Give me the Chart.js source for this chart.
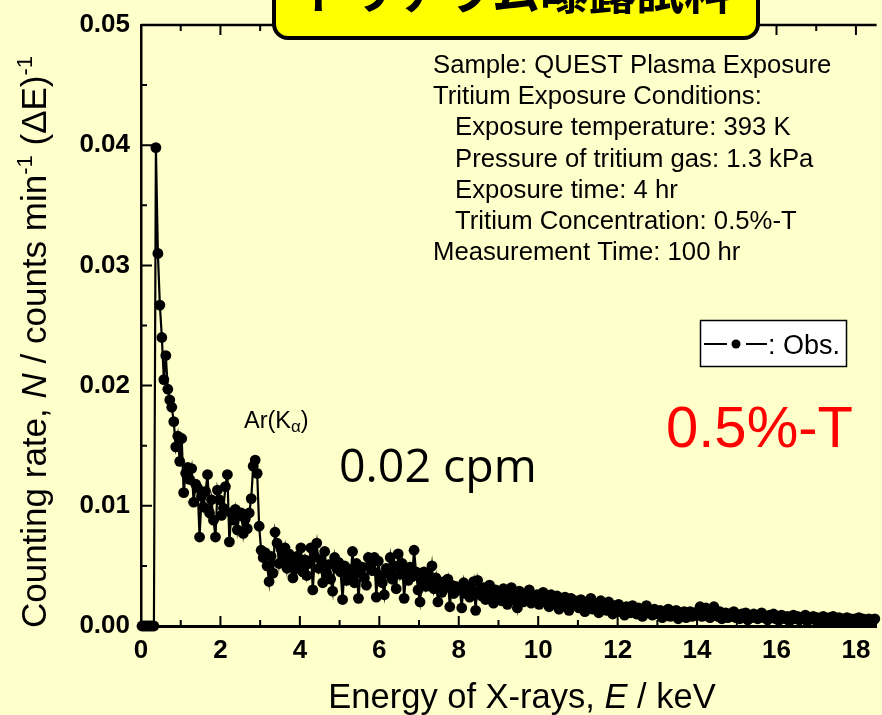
<!DOCTYPE html>
<html><head><meta charset="utf-8">
<script src="https://cdn.jsdelivr.net/npm/chart.js@4.4.1/dist/chart.umd.min.js"></script>
<style>html,body{margin:0;padding:0;background:#FFFFCC;overflow:hidden}canvas{display:block}</style>
</head><body>
<canvas id="c" width="882" height="715" style="width:882px;height:715px"></canvas>
<script>
// Energy channels: bin centres start at 0.025 keV, 0.05 keV wide
const binStart = 0.025, binWidth = 0.05;
// Counting rate per channel (counts/min), one row per keV
const counts_00 = [0,0,0,0,0,0,0,0.0398,0.0310,0.0267,0.0240,0.0205,0.0225,0.0197,0.0188,0.0182,0.0170,0.0149,0.0158,0.0137];
const counts_01 = [0.0156,0.0111,0.0127,0.0132,0.0122,0.0131,0.0103,0.0118,0.0115,0.0074,0.0108,0.0099,0.0112,0.0126,0.0094,0.0105,0.0088,0.0074,0.0113,0.0105];
const counts_02 = [0.0092,0.0098,0.0116,0.0126,0.0070,0.0094,0.0088,0.0097,0.0080,0.0092,0.0094,0.0077,0.0089,0.0081,0.0094,0.0106,0.0133,0.0138,0.0127,0.0083];
const counts_03 = [0.0063,0.0057,0.0061,0.0050,0.0037,0.0058,0.0044,0.0078,0.0069,0.0052,0.0064,0.0055,0.0065,0.0048,0.0060,0.0053,0.0040,0.0047,0.0058,0.0050];
const counts_04 = [0.0065,0.0045,0.0055,0.0042,0.0052,0.0065,0.0030,0.0058,0.0069,0.0048,0.0055,0.0036,0.0062,0.0044,0.0051,0.0039,0.0029,0.0057,0.0048,0.0053];
const counts_05 = [0.0045,0.0022,0.0050,0.0038,0.0047,0.0041,0.0062,0.0036,0.0052,0.0023,0.0044,0.0049,0.0040,0.0034,0.0057,0.0051,0.0046,0.0057,0.0024,0.0054];
const counts_06 = [0.0042,0.0036,0.0026,0.0048,0.0044,0.0057,0.0039,0.0050,0.0031,0.0060,0.0043,0.0052,0.0023,0.0046,0.0038,0.0049,0.0041,0.0063,0.0045,0.0030];
const counts_07 = [0.0020,0.0038,0.0045,0.0033,0.0042,0.0036,0.0050,0.0031,0.0040,0.0020,0.0035,0.0028,0.0037,0.0032,0.0039,0.0016,0.0034,0.0027,0.0033,0.0030];
const counts_08 = [0.0031,0.0015,0.0036,0.0027,0.0033,0.0024,0.0029,0.0037,0.0013,0.0038,0.0030,0.0025,0.0032,0.0022,0.0028,0.0034,0.0026,0.0019,0.0030,0.0023];
const counts_09 = [0.0028,0.0021,0.0031,0.0025,0.0018,0.0027,0.0032,0.0022,0.0026,0.0015,0.0029,0.0024,0.0020,0.0027,0.0023,0.0030,0.0019,0.0025,0.0021,0.0026];
const counts_10 = [0.0018,0.0024,0.0028,0.0020,0.0023,0.0016,0.0026,0.0021,0.0019,0.0025,0.0014,0.0022,0.0018,0.0024,0.0020,0.0013,0.0023,0.0017,0.0021,0.0019];
const counts_11 = [0.0015,0.0022,0.0018,0.0012,0.0020,0.0016,0.0023,0.0014,0.0019,0.0017,0.0011,0.0021,0.0015,0.0018,0.0013,0.0020,0.0016,0.0010,0.0017,0.0014];
const counts_12 = [0.0018,0.0012,0.0015,0.0009,0.0016,0.0013,0.0011,0.0017,0.0014,0.0010,0.0015,0.0012,0.0008,0.0014,0.0017,0.0011,0.0013,0.0009,0.0014,0.0012];
const counts_13 = [0.0010,0.0013,0.0007,0.0012,0.0011,0.0014,0.0008,0.0012,0.0010,0.0013,0.0006,0.0011,0.0009,0.0012,0.0007,0.0010,0.0012,0.0008,0.0011,0.0009];
const counts_14 = [0.0012,0.0016,0.0008,0.0011,0.0015,0.0009,0.0007,0.0011,0.0016,0.0010,0.0008,0.0012,0.0006,0.0009,0.0011,0.0007,0.0010,0.0008,0.0012,0.0007];
const counts_15 = [0.0009,0.0006,0.0010,0.0008,0.0011,0.0005,0.0009,0.0007,0.0010,0.0008,0.0006,0.0009,0.0011,0.0007,0.0008,0.0005,0.0009,0.0007,0.0010,0.0006];
const counts_16 = [0.0008,0.0005,0.0009,0.0007,0.0006,0.0008,0.0004,0.0007,0.0009,0.0006,0.0008,0.0005,0.0007,0.0006,0.0009,0.0004,0.0007,0.0006,0.0008,0.0005];
const counts_17 = [0.0007,0.0005,0.0006,0.0008,0.0004,0.0006,0.0007,0.0005,0.0008,0.0006,0.0004,0.0007,0.0005,0.0006,0.0003,0.0007,0.0005,0.0006,0.0004,0.0006];
const counts_18 = [0.0005,0.0007,0.0004,0.0006,0.0005,0.0003,0.0006,0.0005,0.0004,0.0006];

const xTickStep = 2, yTickStep = 0.01;
const xMin = 0, xMax = 18.52, yMin = 0, yMax = 0.05;

const titleText = 'トリチウム曝露試料';
const infoLines = [
  ['Sample: QUEST Plasma Exposure', 0],
  ['Tritium Exposure Conditions:', 0],
  ['Exposure temperature: 393 K', 1],
  ['Pressure of tritium gas: 1.3 kPa', 1],
  ['Exposure time: 4 hr', 1],
  ['Tritium Concentration: 0.5%-T', 1],
  ['Measurement Time: 100 hr', 0]
];
const seriesName = 'Obs.';

const counts = [].concat(counts_00,counts_01,counts_02,counts_03,counts_04,counts_05,counts_06,counts_07,counts_08,counts_09,
  counts_10,counts_11,counts_12,counts_13,counts_14,counts_15,counts_16,counts_17,counts_18);
const points = counts.map((v,i)=>({x: binStart + i*binWidth, y: v}));

const SANS = "'Liberation Sans', Arial, sans-serif";

function drawRich(ctx, parts, x, y, align){
  let total = 0;
  const ws = parts.map(p=>{ctx.font=(p.italic?'italic ':'')+p.size+'px '+SANS; const w=ctx.measureText(p.t).width; total+=w; return w;});
  let cx = align==='center' ? x - total/2 : x;
  parts.forEach((p,i)=>{
    ctx.font=(p.italic?'italic ':'')+p.size+'px '+SANS;
    ctx.textAlign='left'; ctx.textBaseline='alphabetic';
    ctx.fillText(p.t, cx, y + (p.dy||0));
    cx += ws[i];
  });
}

const decor = {
  id:'decor',
  beforeDraw(chart){
    const ctx=chart.ctx; ctx.save(); ctx.fillStyle='#FFFFCC'; ctx.fillRect(0,0,chart.width,chart.height); ctx.restore();
  },
  afterDraw(chart){
    const ctx=chart.ctx, ca=chart.chartArea, xs=chart.scales.x, ys=chart.scales.y;
    ctx.save();
    ctx.strokeStyle='#000'; ctx.lineWidth=2.5;
    ctx.beginPath(); ctx.moveTo(ca.left, ca.top); ctx.lineTo(ca.right, ca.top); ctx.stroke();
    ctx.lineWidth=2;
    const xt = xs.ticks.map(t=>t.value);
    const xMinor=[]; for(let i=0;i<xt.length-1;i++) xMinor.push((xt[i]+xt[i+1])/2);
    ctx.beginPath();
    xt.forEach(v=>{const p=xs.getPixelForValue(v); ctx.moveTo(p,ca.bottom); ctx.lineTo(p,ca.bottom-10); ctx.moveTo(p,ca.top); ctx.lineTo(p,ca.top+10);});
    xMinor.forEach(v=>{const p=xs.getPixelForValue(v); ctx.moveTo(p,ca.bottom); ctx.lineTo(p,ca.bottom-6); ctx.moveTo(p,ca.top); ctx.lineTo(p,ca.top+6);});
    const yt = ys.ticks.map(t=>t.value);
    yt.forEach(v=>{const p=ys.getPixelForValue(v); ctx.moveTo(ca.left,p); ctx.lineTo(ca.left+11,p);});
    for(let i=0;i<yt.length-1;i++){const p=ys.getPixelForValue((yt[i]+yt[i+1])/2); ctx.moveTo(ca.left,p); ctx.lineTo(ca.left+6,p);}
    ctx.stroke();

    ctx.fillStyle='#000';
    drawRich(ctx,[{t:'Energy of X-rays, ',size:34.5},{t:'E',size:34.5,italic:true},{t:' / keV',size:34.5}],522,708,'center');
    ctx.save(); ctx.translate(46,342); ctx.rotate(-Math.PI/2);
    drawRich(ctx,[{t:'Counting rate, ',size:35},{t:'N',size:35,italic:true},{t:' / counts min',size:35},{t:'-1',size:22,dy:-14},{t:' (ΔE)',size:35},{t:'-1',size:22,dy:-14}],0,0,'center');
    ctx.restore();

    ctx.font='25.7px '+SANS; ctx.textAlign='left'; ctx.textBaseline='alphabetic';
    infoLines.forEach((l,i)=>{ ctx.fillText(l[0], 433 + l[1]*22, 73 + i*31.2); });

    drawRich(ctx,[{t:'Ar(K',size:23.5},{t:'α',size:17,dy:4},{t:')',size:23.5}],244,428,'left');

    ctx.font="46.5px 'Open Sans', 'Noto Sans', sans-serif"; ctx.fillStyle='#000';
    ctx.fillText('0.02 cpm', 339, 482);
    ctx.font='58px '+SANS; ctx.fillStyle='#FF0000';
    ctx.fillText('0.5%-T', 666, 447);

    ctx.fillStyle='#FFFFFF'; ctx.fillRect(700.5,320.5,146,46);
    ctx.strokeStyle='#000'; ctx.lineWidth=1.5; ctx.strokeRect(700.5,320.5,146,46);
    ctx.lineWidth=2; ctx.beginPath(); ctx.moveTo(704,344); ctx.lineTo(727,344); ctx.moveTo(746,344); ctx.lineTo(767,344); ctx.stroke();
    ctx.fillStyle='#000'; ctx.beginPath(); ctx.arc(736,344,4.5,0,Math.PI*2); ctx.fill();
    ctx.font='27px '+SANS; ctx.fillText(': '+seriesName, 768, 354);

    ctx.fillStyle='#FFFF00'; ctx.strokeStyle='#000'; ctx.lineWidth=4;
    ctx.beginPath();
    if (ctx.roundRect) ctx.roundRect(274,-40,484,78,14); else ctx.rect(274,-40,484,78);
    ctx.fill(); ctx.stroke();
    ctx.fillStyle='#000'; ctx.font="bold 48px 'Noto Sans CJK JP', sans-serif"; ctx.textAlign='center';
    ctx.fillText(titleText, 516, 9);
    ctx.restore();
  }
};

new Chart(document.getElementById('c'), {
  type:'line',
  data:{datasets:[{label:seriesName, data:points, borderColor:'#000', backgroundColor:'#000', borderWidth:2.2,
    pointRadius:5.4, pointHoverRadius:5.4, pointBackgroundColor:'#000', pointBorderWidth:0, tension:0, clip:false}]},
  options:{
    responsive:false, devicePixelRatio:1, animation:false,
    layout:{padding:{top:25,left:0,right:0,bottom:0}},
    plugins:{legend:{display:false}, tooltip:{enabled:false}},
    scales:{
      x:{type:'linear', min:xMin, max:xMax,
        grid:{display:false, drawTicks:false},
        border:{display:true, color:'#000', width:3},
        ticks:{stepSize:xTickStep, includeBounds:false, color:'#000', padding:9, maxRotation:0,
          font:{family:"'Liberation Sans', Arial, sans-serif", size:26, weight:'bold'},
          callback:v=>String(Math.round(v))},
        afterFit(s){ s.height=89; s.paddingLeft=0; s.paddingRight=0; }
      },
      y:{type:'linear', min:yMin, max:yMax,
        grid:{display:false, drawTicks:false},
        border:{display:true, color:'#000', width:2.5},
        ticks:{stepSize:yTickStep, color:'#000', padding:11,
          font:{family:"'Liberation Sans', Arial, sans-serif", size:26, weight:'bold'},
          callback:v=>v.toFixed(2)},
        afterFit(s){ s.width=141; s.paddingTop=0; s.paddingBottom=0; }
      }
    }
  },
  plugins:[decor]
});
</script>
</body></html>
